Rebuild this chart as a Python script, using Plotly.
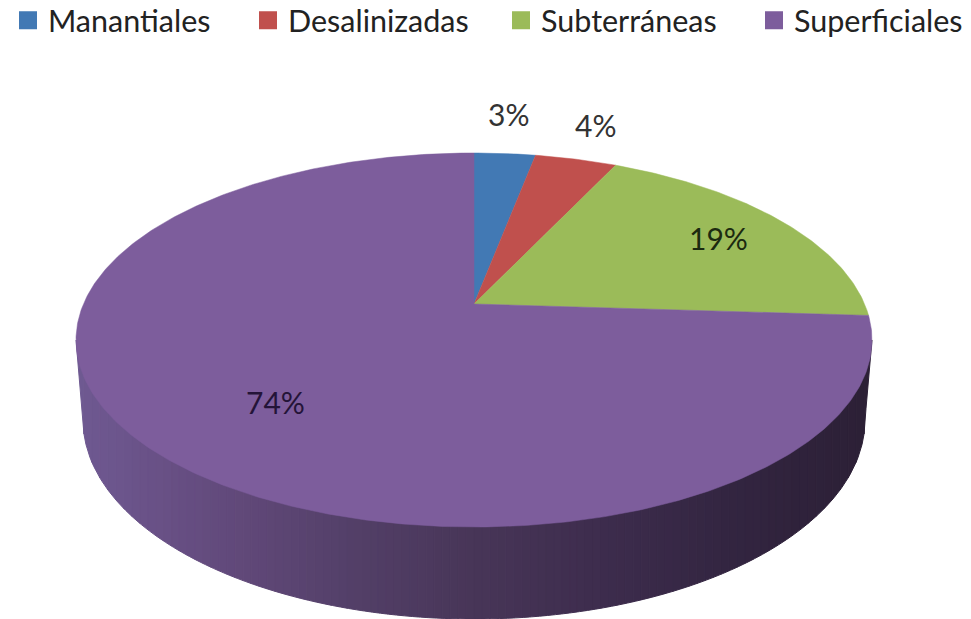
import numpy as np
import plotly.graph_objects as go

categories = ["Manantiales", "Desalinizadas", "Subterráneas", "Superficiales"]
values = [3, 4, 19, 74]
labels = ["3%", "4%", "19%", "74%"]
colors = ["#4279b4", "#c0504d", "#9bbb59", "#7d5d9c"]

# Presentation geometry of the tilted pie (pixels)
TOP = dict(cx=474, cy=340, rx=398, ry=187)
BOTTOM = dict(cx=474, cy=420, rx=391, ry=199)
APEX_SHIFT = -0.1925
LABEL_XY = [(508, 114), (595, 125), (718, 238), (275, 402)]
LEGEND_X = [20, 260, 513, 766]
RIM_STOPS = [(76, "#6f5a92"), (150, "#6a5288"), (250, "#604878"), (350, "#544069"),
             (474, "#483658"), (600, "#3e2d4e"), (720, "#342642"), (872, "#2c2036")]


def rim_point(frac):
    """Perspective image of the point at a fraction of the way round the disc."""
    t = 2 * np.pi * np.asarray(frac, dtype=float)
    x, y = np.sin(t), -np.cos(t)
    k = APEX_SHIFT
    d = 1 + k * y
    u = x * np.sqrt(1 - k * k) / d
    v = (y + k) / d
    return TOP["cx"] + TOP["rx"] * u, TOP["cy"] + TOP["ry"] * v


def hex_rgb(h):
    return np.array([int(h[i:i + 2], 16) for i in (1, 3, 5)], dtype=float)


def rim_color(x):
    xs = [s[0] for s in RIM_STOPS]
    cs = np.array([hex_rgb(s[1]) for s in RIM_STOPS])
    rgb = [np.interp(x, xs, cs[:, i]) for i in range(3)]
    return "rgb(%d,%d,%d)" % tuple(rgb)


def rim_lower(x):
    dx = (x - BOTTOM["cx"]) / BOTTOM["rx"]
    if abs(dx) <= 1:
        return BOTTOM["cy"] + BOTTOM["ry"] * np.sqrt(1 - dx * dx)
    return BOTTOM["cy"]


fig = go.Figure()

# side wall, as vertical strips of a shaded band
edges = np.linspace(TOP["cx"] - TOP["rx"], TOP["cx"] + TOP["rx"], 101)
for a, b in zip(edges[:-1], edges[1:]):
    xs = np.linspace(a, b, 5)
    low = []
    for x in xs:
        if x < BOTTOM["cx"] - BOTTOM["rx"] or x > BOTTOM["cx"] + BOTTOM["rx"]:
            edge = BOTTOM["cx"] - BOTTOM["rx"] if x < BOTTOM["cx"] else BOTTOM["cx"] + BOTTOM["rx"]
            end = TOP["cx"] - TOP["rx"] if x < BOTTOM["cx"] else TOP["cx"] + TOP["rx"]
            low.append(TOP["cy"] + (BOTTOM["cy"] - TOP["cy"]) * (x - end) / (edge - end))
        else:
            low.append(rim_lower(x))
    c = rim_color((a + b) / 2)
    fig.add_trace(go.Scatter(
        x=[a, *xs, b], y=[TOP["cy"], *low, TOP["cy"]], mode="lines", fill="toself",
        fillcolor=c, line=dict(color=c, width=1), showlegend=False, hoverinfo="skip"))

# top face: one wedge per category, from the values
cum = np.cumsum([0] + values) / sum(values)
apex_xy = (TOP["cx"], TOP["cy"] + TOP["ry"] * APEX_SHIFT)
for i, name in enumerate(categories):
    n = max(8, int(values[i] * 6))
    px, py = rim_point(np.linspace(cum[i], cum[i + 1], n))
    fig.add_trace(go.Scatter(
        x=[apex_xy[0], *px, apex_xy[0]], y=[apex_xy[1], *py, apex_xy[1]],
        mode="lines", fill="toself", fillcolor=colors[i],
        line=dict(color=colors[i], width=0.5), name=name, showlegend=False,
        hoverinfo="name"))

# legend entries
for i, name in enumerate(categories):
    ref = "legend" if i == 0 else f"legend{i + 1}"
    fig.add_trace(go.Scatter(
        x=[None], y=[None], mode="markers", name=name, legend=ref,
        marker=dict(symbol="square", size=14, color=colors[i],
                    line=dict(color=colors[i], width=4))))

legend_font = dict(family="Lato", size=30.5, color="#222222")
layout_legends = {}
for i, x0 in enumerate(LEGEND_X):
    ref = "legend" if i == 0 else f"legend{i + 1}"
    layout_legends[ref] = dict(
        x=(x0 - 12) / 971, xanchor="left", y=1 + 6 / 619, yanchor="top",
        font=legend_font, bgcolor="rgba(0,0,0,0)",
        itemwidth=30, tracegroupgap=0)

annotations = [
    dict(x=x, y=y, text=t, showarrow=False, xref="x", yref="y",
         font=dict(family="Lato", size=30, color=c))
    for (x, y), t, c in zip(LABEL_XY, labels, ["#333333", "#333333", "#1c2a10", "#241438"])
]

fig.update_layout(
    width=971, height=619, margin=dict(l=0, r=0, t=0, b=0, autoexpand=False),
    paper_bgcolor="white", plot_bgcolor="white",
    xaxis=dict(range=[0, 971], visible=False, fixedrange=True),
    yaxis=dict(range=[619, 0], visible=False, fixedrange=True),
    annotations=annotations,
    **layout_legends,
)
post = ("document.body.style.margin='0';"
        "var s=document.createElement('style');"
        "s.textContent='text{font-variant-ligatures:none;}';"
        "document.head.appendChild(s);")
fig.write_html("out.html", post_script=post, config={"displayModeBar": False})
